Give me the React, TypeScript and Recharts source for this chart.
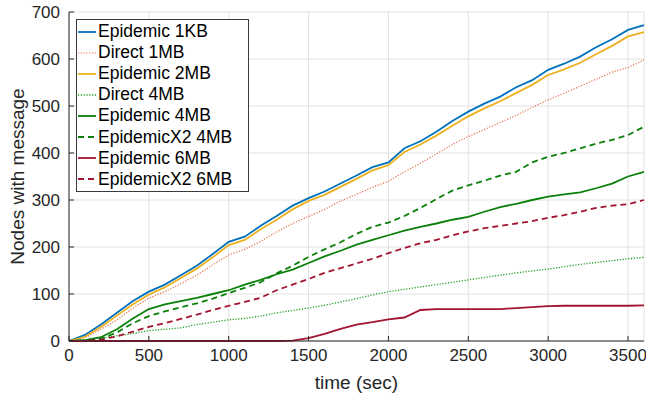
import { CartesianGrid, Line, LineChart, XAxis, YAxis } from "recharts";

const time = [
  0, 100, 200, 300, 400, 500, 600, 700, 800, 900, 1000, 1100, 1200, 1300, 1400, 1500, 1600, 1700, 1800,
  1900, 2000, 2100, 2200, 2300, 2400, 2500, 2600, 2700, 2800, 2900, 3000, 3100, 3200, 3300, 3400, 3500, 3600,
];

const epidemic1KB = [
  0, 13, 35, 60, 85, 105, 120, 140, 160, 185, 211, 222, 245, 266, 288, 304, 318, 335, 352, 370, 380, 410, 425,
  445, 468, 488, 505, 520, 540, 555, 577, 590, 605, 625, 642, 662, 672,
];
const direct1MB = [
  0, 7, 25, 45, 70, 91, 105, 122, 140, 162, 183, 195, 212, 232, 250, 265, 280, 298, 312, 327, 340, 360, 378,
  398, 418, 435, 450, 465, 480, 497, 513, 527, 542, 557, 572, 582, 598,
];
const epidemic2MB = [
  0, 9, 30, 54, 78, 99, 114, 134, 154, 178, 204, 215, 238, 258, 280, 298, 311, 328, 345, 363, 374, 402, 418,
  437, 458, 478, 495, 510, 528, 545, 566, 578, 592, 610, 628, 648, 657,
];
const direct4MB = [
  0, 2, 6, 11, 16, 22, 25, 28, 35, 40, 45, 48, 53, 60, 65, 70, 76, 83, 90, 98, 105, 110, 115, 120, 125, 130,
  135, 140, 145, 149, 153, 158, 163, 167, 171, 175, 178,
];
const epidemic4MB = [
  0, 2, 8, 25, 48, 68, 78, 85, 92, 100, 108, 120, 130, 142, 152, 166, 180, 192, 205, 215, 225, 235, 243, 250,
  258, 264, 275, 285, 292, 300, 307, 312, 316, 325, 335, 350, 360,
];
const epidemicX2_4MB = [
  0, 1, 5, 18, 38, 53, 63, 72, 80, 90, 102, 113, 125, 144, 160, 179, 195, 210, 228, 243, 252, 266, 283, 302,
  320, 331, 341, 352, 360, 380, 392, 400, 410, 420, 428, 438, 456,
];
const epidemic6MB = [
  0, 0, 0, 0, 0, 0, 0, 0, 0, 0, 0, 0, 0, 0, 1, 6, 15, 26, 35, 40, 46, 50, 66, 68, 68, 68, 68, 68, 70, 72, 74,
  75, 75, 75, 75, 75, 76,
];
const epidemicX2_6MB = [
  0, 0, 3, 10, 20, 30, 38, 47, 56, 66, 75, 83, 92, 108, 120, 132, 145, 155, 165, 175, 187, 198, 208, 215, 225,
  233, 240, 245, 250, 255, 262, 268, 275, 283, 288, 291, 300,
];

const xTicks = [0, 500, 1000, 1500, 2000, 2500, 3000, 3500];
const yTicks = [0, 100, 200, 300, 400, 500, 600, 700];

const series = [
  { key: "e1kb", name: "Epidemic 1KB", values: epidemic1KB, color: "#0072BD", dash: undefined, width: 1.8 },
  { key: "d1mb", name: "Direct 1MB", values: direct1MB, color: "#E3704A", dash: "1.2 1.6", width: 1.2 },
  { key: "e2mb", name: "Epidemic 2MB", values: epidemic2MB, color: "#EDB120", dash: undefined, width: 1.8 },
  { key: "d4mb", name: "Direct 4MB", values: direct4MB, color: "#1E9E1E", dash: "1.2 1.6", width: 1.3 },
  { key: "e4mb", name: "Epidemic 4MB", values: epidemic4MB, color: "#0A800A", dash: undefined, width: 1.8 },
  { key: "x4mb", name: "EpidemicX2 4MB", values: epidemicX2_4MB, color: "#0A800A", dash: "6 4", width: 1.8 },
  { key: "e6mb", name: "Epidemic 6MB", values: epidemic6MB, color: "#A2142F", dash: undefined, width: 1.8 },
  { key: "x6mb", name: "EpidemicX2 6MB", values: epidemicX2_6MB, color: "#A2142F", dash: "6 4", width: 1.8 },
];

const data = time.map((t, i) => {
  const row: Record<string, number> = { t };
  series.forEach((s) => {
    row[s.key] = s.values[i];
  });
  return row;
});

const font = "'Liberation Sans', Arial, Helvetica, sans-serif";
const ink = "#262626";

// legend drawn as an overlay so it doesn't eat into the plot area
function LegendBox() {
  return (
    <div
      style={{
        position: "absolute",
        left: 76,
        top: 19,
        width: 171,
        height: 170,
        border: "1px solid #3a3a3a",
        background: "#fff",
        paddingTop: 1,
        boxSizing: "content-box",
        fontFamily: font,
        fontSize: 17.5,
        color: "#000",
      }}
    >
      {series.map((s) => (
        <div key={s.key} style={{ height: 21.1, display: "flex", alignItems: "center" }}>
          <svg width={20} height={10} style={{ marginLeft: 1, flex: "none" }}>
            <line x1={0} y1={5} x2={18} y2={5} stroke={s.color} strokeWidth={s.width} strokeDasharray={s.dash} />
          </svg>
          <span style={{ whiteSpace: "nowrap", lineHeight: "21px" }}>{s.name}</span>
        </div>
      ))}
    </div>
  );
}

export default function App() {
  return (
    <div style={{ position: "absolute", left: 0, top: 0, width: 646, height: 394, background: "#fff" }}>
      <LineChart width={646} height={394} data={data} margin={{ top: 12, right: 2, left: 0, bottom: 0 }}>
        <CartesianGrid stroke="#e2e2e2" strokeWidth={1} />
        <XAxis
          dataKey="t"
          type="number"
          domain={[0, 3600]}
          ticks={xTicks}
          interval={0}
          height={53}
          tickSize={-5}
          tickMargin={13}
          stroke={ink}
          tick={{ fill: ink, fontSize: 17, fontFamily: font }}
          label={{ value: "time (sec)", position: "insideBottom", offset: 5, fill: ink, fontSize: 19, fontFamily: font }}
        />
        <XAxis xAxisId="top" dataKey="t" type="number" domain={[0, 3600]} ticks={xTicks} interval={0} orientation="top" mirror height={0} tickSize={5} stroke={ink} tick={false} />
        <YAxis
          type="number"
          domain={[0, 700]}
          ticks={yTicks}
          interval={0}
          width={69}
          tickSize={-5}
          tickMargin={14}
          stroke={ink}
          tick={{ fill: ink, fontSize: 17, fontFamily: font }}
          label={{ value: "Nodes with message", angle: -90, position: "insideLeft", offset: 17, fill: ink, fontSize: 19, fontFamily: font, style: { textAnchor: "middle" } }}
        />
        <YAxis yAxisId="right" type="number" domain={[0, 700]} ticks={yTicks} interval={0} orientation="right" mirror width={0} tickSize={5} stroke={ink} tick={false} />
        {series.map((s) => (
          <Line
            key={s.key}
            dataKey={s.key}
            name={s.name}
            type="linear"
            stroke={s.color}
            strokeWidth={s.width}
            strokeDasharray={s.dash}
            dot={false}
            activeDot={false}
            isAnimationActive={false}
          />
        ))}
      </LineChart>
      <LegendBox />
    </div>
  );
}
